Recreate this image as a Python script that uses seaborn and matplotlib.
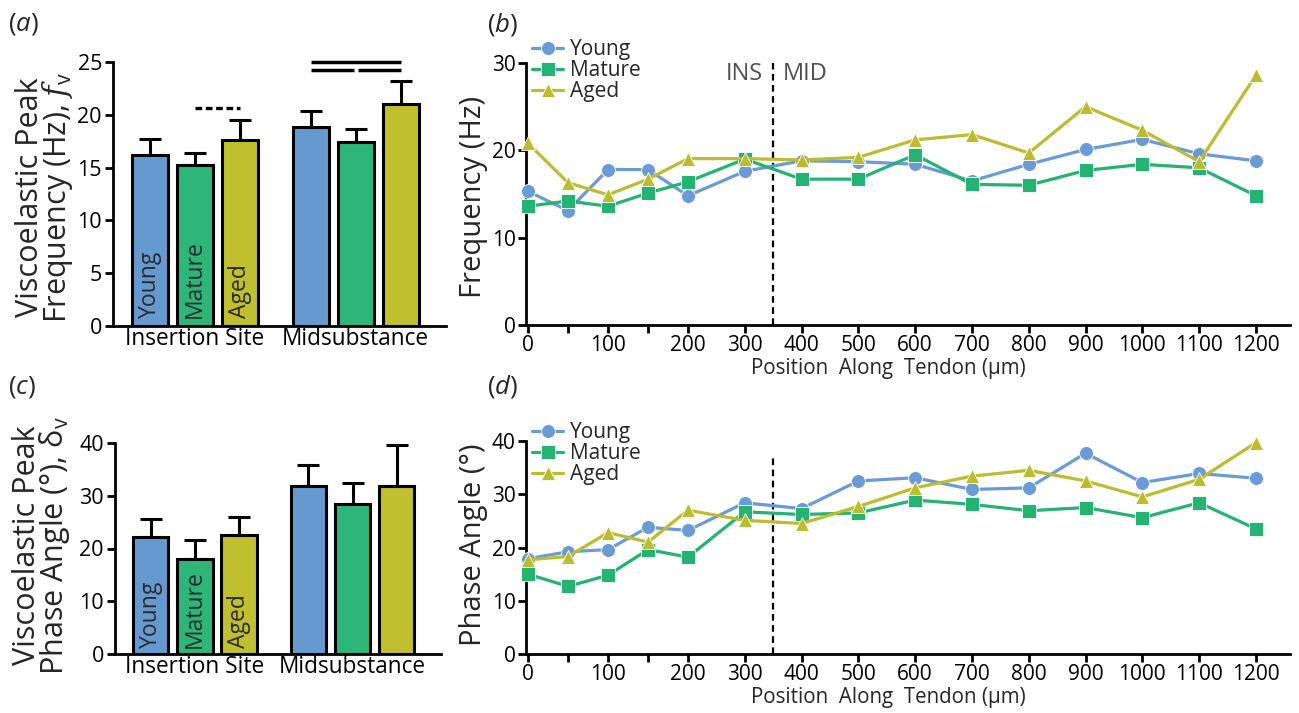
import numpy as np
import pandas as pd
import matplotlib
matplotlib.use("Agg")
import matplotlib.pyplot as plt
import seaborn as sns

# ---------------- data ----------------
groups = ["Young", "Mature", "Aged"]
sites = ["Insertion Site", "Midsubstance"]

freq_young = [16.2, 18.8]
freq_mature = [15.2, 17.4]
freq_aged = [17.6, 21.0]
freq_young_sem = [1.5, 1.6]
freq_mature_sem = [1.2, 1.3]
freq_aged_sem = [1.9, 2.2]

phase_young = [22.1, 31.9]
phase_mature = [18.0, 28.4]
phase_aged = [22.5, 31.8]
phase_young_sem = [3.5, 3.9]
phase_mature_sem = [3.6, 4.0]
phase_aged_sem = [3.4, 7.8]

positions = [0, 50, 100, 150, 200, 300, 400, 500, 600, 700, 800, 900, 1000, 1100, 1200]
pos_ticks = [0, 100, 200, 300, 400, 500, 600, 700, 800, 900, 1000, 1100, 1200]
pos_minor_ticks = [50, 150]

freq_young_pos = [15.3, 13.1, 17.8, 17.8, 14.8, 17.6, 18.8, 18.7, 18.4, 16.5, 18.4, 20.1, 21.25, 19.6, 18.8]
freq_mature_pos = [13.6, 14.2, 13.6, 15.1, 16.4, 19.0, 16.7, 16.7, 19.5, 16.1, 16.0, 17.7, 18.4, 18.0, 14.8]
freq_aged_pos = [20.8, 16.3, 14.9, 16.7, 19.05, 19.05, 18.9, 19.2, 21.2, 21.8, 19.7, 25.0, 22.3, 18.7, 28.6]

phase_young_pos = [17.9, 19.2, 19.6, 23.8, 23.2, 28.4, 27.3, 32.5, 33.1, 30.9, 31.2, 37.7, 32.2, 33.9, 33.0]
phase_mature_pos = [15.0, 12.7, 14.8, 19.6, 18.2, 26.7, 26.2, 26.5, 28.9, 28.1, 26.9, 27.5, 25.6, 28.4, 23.5]
phase_aged_pos = [17.7, 18.3, 22.8, 21.0, 27.0, 25.1, 24.5, 27.7, 31.2, 33.4, 34.5, 32.5, 29.5, 32.8, 39.7]

bar_colors = {"Young": "#6699d0", "Mature": "#2db57a", "Aged": "#bfbf30"}
line_colors = {"Young": "#6b9bd6", "Mature": "#24b372", "Aged": "#bcbd2e"}
markers = {"Young": "o", "Mature": "s", "Aged": "^"}

# ---------------- style ----------------
sns.set_style("ticks")
plt.rcParams["font.family"] = ["Open Sans", "DejaVu Sans"]
plt.rcParams["mathtext.fontset"] = "custom"
plt.rcParams["mathtext.rm"] = "Open Sans"
plt.rcParams["mathtext.it"] = "Open Sans:italic"
plt.rcParams["mathtext.cal"] = "DejaVu Serif:italic"
plt.rcParams["axes.linewidth"] = 2.0
plt.rcParams["xtick.major.width"] = 2.0
plt.rcParams["ytick.major.width"] = 2.0
plt.rcParams["xtick.minor.width"] = 2.0
plt.rcParams["xtick.color"] = "black"
plt.rcParams["ytick.color"] = "black"
plt.rcParams["axes.edgecolor"] = "black"

fig = plt.figure(figsize=(12.99, 7.13), dpi=100)
W, H = 1299, 713


def fbox(l, t, r, b):
    return [l / W, 1 - b / H, (r - l) / W, (b - t) / H]


ax_a = fig.add_axes(fbox(113, 62, 446, 326))
ax_b = fig.add_axes(fbox(526, 63, 1290, 325))
ax_c = fig.add_axes(fbox(115, 443, 441, 654))
ax_d = fig.add_axes(fbox(526, 441, 1290, 654))


# ---------------- bar panels ----------------
def bar_panel(ax, means, sems, ymax, step, label_y):
    rows = []
    for g, m in zip(groups, means):
        for s, v in zip(sites, m):
            rows.append({"site": s, "group": g, "value": v})
    df = pd.DataFrame(rows)
    sns.barplot(data=df, x="site", y="value", hue="group", hue_order=groups,
                order=sites, palette=bar_colors, width=0.84, gap=0.2,
                edgecolor="black", linewidth=2.2, errorbar=None, saturation=1,
                legend=False, ax=ax, zorder=3)
    centers = {}
    for g, cont, m, e in zip(groups, ax.containers, means, sems):
        xs = [p.get_x() + p.get_width() / 2 for p in cont]
        centers[g] = xs
        ax.errorbar(xs, m, yerr=[np.zeros(len(e)), e], fmt="none", ecolor="black",
                    elinewidth=2.2, capsize=8, capthick=2.2, zorder=2)
        ax.text(xs[0], label_y, g, rotation=90, ha="center", va="bottom",
                fontsize=16.5, color="#2b2b2b", zorder=4)
    ax.set_xlim(-0.507, 1.561)
    ax.set_ylim(0, ymax)
    ax.set_yticks(np.arange(0, ymax + 0.1, step))
    ax.tick_params(axis="y", labelsize=15.5, length=6, pad=2)
    ax.tick_params(axis="x", labelsize=16.3, length=0, pad=1)
    ax.set_xlabel("")
    ax.set_ylabel("")
    sns.despine(ax=ax)
    return centers


ca = bar_panel(ax_a, [freq_young, freq_mature, freq_aged],
               [freq_young_sem, freq_mature_sem, freq_aged_sem], 25, 5, 0.8)
cc = bar_panel(ax_c, [phase_young, phase_mature, phase_aged],
               [phase_young_sem, phase_mature_sem, phase_aged_sem], 40, 10, 1.2)

# significance markers in panel (a)
ax_a.plot([ca["Mature"][0], ca["Aged"][0]], [20.6, 20.6], color="black", lw=2.4,
          ls=(0, (2, 1.1)), clip_on=False, solid_capstyle="butt")
ax_a.plot([ca["Young"][1], ca["Aged"][1]], [24.98, 24.98], color="black", lw=2.5,
          clip_on=False, solid_capstyle="butt")
ax_a.plot([ca["Young"][1], ca["Mature"][1] - 0.012], [24.2, 24.2], color="black",
          lw=2.5, clip_on=False, solid_capstyle="butt")
ax_a.plot([ca["Mature"][1] + 0.012, ca["Aged"][1]], [24.2, 24.2], color="black",
          lw=2.5, clip_on=False, solid_capstyle="butt")

fig.text(45 / W, 1 - 197 / H, "Viscoelastic Peak\nFrequency (Hz), $\\mathcal{f}_{\\mathrm{v}}$",
         rotation=90, ha="center", va="center", fontsize=22, linespacing=0.82)
fig.text(42 / W, 1 - 545 / H, "Viscoelastic Peak\nPhase Angle (°), δ$_{\\mathrm{v}}$",
         rotation=90, ha="center", va="center", fontsize=22, linespacing=0.82)


# ---------------- line panels ----------------
def fwd(x):
    x = np.asarray(x, dtype=float)
    return np.where(x <= 200, x, 200 + (x - 200) * 0.71)


def inv(y):
    y = np.asarray(y, dtype=float)
    return np.where(y <= 200, y, 200 + (y - 200) / 0.71)


def line_panel(ax, series, ymax, step, vline_top, label_y):
    rows = []
    for g, vals in zip(groups, series):
        for p, v in zip(positions, vals):
            rows.append({"pos": p, "val": v, "group": g})
    df = pd.DataFrame(rows)
    ax.set_xscale("function", functions=(fwd, inv))
    sns.lineplot(data=df, x="pos", y="val", hue="group", style="group",
                 hue_order=groups, style_order=groups, palette=line_colors,
                 markers=markers, dashes=False, linewidth=2.3, markersize=10,
                 markeredgewidth=0.6, markeredgecolor="white", ax=ax,
                 clip_on=False, zorder=3)
    ax.vlines(350, 0, vline_top, colors="black", linestyles=(0, (3, 2)), lw=1.6, zorder=2)
    ax.set_xlim(-2.5, 1260)
    ax.set_ylim(0, ymax)
    ax.set_xticks(pos_ticks)
    ax.set_xticks(pos_minor_ticks, minor=True)
    ax.set_xticklabels([str(t) for t in pos_ticks])
    ax.set_yticks(np.arange(0, ymax + 0.1, step))
    ax.tick_params(axis="both", which="both", length=6, pad=1.5, labelsize=15)
    ax.set_xlabel("Position  Along  Tendon (µm)", fontsize=14.8)
    ax.xaxis.set_label_coords(0.474, label_y)
    ax.set_ylabel("")
    sns.despine(ax=ax)
    sns.move_legend(ax, "upper left", bbox_to_anchor=(0.008, 1.09), frameon=False,
                    title=None, fontsize=15, handlelength=1.5, handletextpad=0.3,
                    labelspacing=0.0, borderpad=0.0, borderaxespad=0.0)


line_panel(ax_b, [freq_young_pos, freq_mature_pos, freq_aged_pos], 30, 10, 30, -0.125)
line_panel(ax_d, [phase_young_pos, phase_mature_pos, phase_aged_pos], 40, 10, 37.5, -0.155)

ax_b.text(332, 28.75, "INS", ha="right", va="center", color="#505050", fontsize=17)
ax_b.text(366, 28.75, "MID", ha="left", va="center", color="#505050", fontsize=17)

fig.text(473 / W, 1 - 197 / H, "Frequency (Hz)", rotation=90, ha="center", va="center", fontsize=21)
fig.text(473 / W, 1 - 545 / H, "Phase Angle (°)", rotation=90, ha="center", va="center", fontsize=21)

# panel labels
for x, y, t in [(8, 24, "a"), (487, 24, "b"), (8, 387, "c"), (487, 387, "d")]:
    fig.text(x / W, 1 - y / H, "($\\mathit{" + t + "}$)", ha="left", va="center", fontsize=18.5)

fig.savefig("out.png", dpi=100)
